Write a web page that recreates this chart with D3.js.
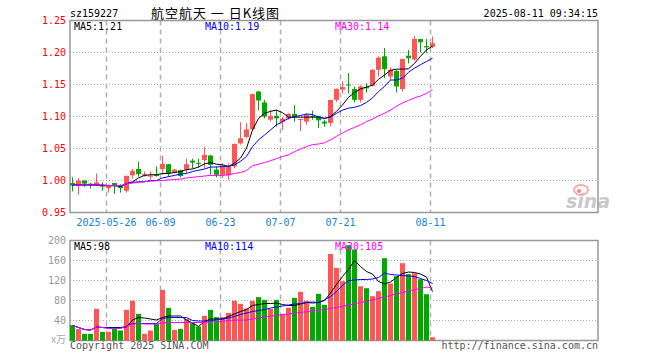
<!DOCTYPE html>
<html>
<head>
<meta charset="utf-8">
<script src="https://cdn.jsdelivr.net/npm/d3@7"></script>
<style>
  body { margin: 0; background: #fff; }
  svg { display: block; }
  text { font-family: "DejaVu Sans Mono", monospace; font-size: 10px; }
</style>
</head>
<body>
<svg id="chart" width="660" height="360"></svg>
<script>
// dades llegides del grafic (61 sessions)
const dates = ["05-16","05-19","05-20","05-21","05-22","05-23","05-26","05-27","05-28","05-29","05-30",
  "06-03","06-04","06-05","06-06","06-09","06-10","06-11","06-12","06-13","06-16","06-17","06-18","06-19","06-20",
  "06-23","06-24","06-25","06-26","06-27","06-30","07-01","07-02","07-03","07-04","07-07","07-08","07-09","07-10","07-11",
  "07-14","07-15","07-16","07-17","07-18","07-21","07-22","07-23","07-24","07-25","07-28","07-29","07-30","07-31",
  "08-01","08-04","08-05","08-06","08-07","08-08","08-11"];

const open = [0.996,0.993,1.000,0.995,0.993,0.992,0.988,0.996,0.992,0.984,1.008,
  1.018,1.008,1.006,1.009,1.018,1.0255,1.0125,1.016,1.017,1.031,1.0275,1.032,1.039,1.017,
  1.009,1.008,1.022,1.058,1.068,1.080,1.139,1.122,1.095,1.101,1.092,1.097,1.104,1.0955,1.092,
  1.101,1.101,1.092,1.090,1.126,1.142,1.150,1.143,1.126,1.146,1.148,1.173,1.194,1.1625,
  1.171,1.143,1.195,1.189,1.221,1.210,1.209];
const high = [1.005,1.004,1.000,0.996,1.011,0.997,0.994,0.996,0.994,1.008,1.018,
  1.029,1.014,1.014,1.022,1.0385,1.0255,1.018,1.017,1.034,1.034,1.034,1.052,1.040,1.022,
  1.027,1.027,1.058,1.091,1.090,1.136,1.140,1.126,1.110,1.110,1.099,1.105,1.118,1.0965,1.105,
  1.109,1.101,1.095,1.126,1.144,1.155,1.168,1.147,1.149,1.152,1.174,1.194,1.207,1.177,
  1.173,1.190,1.204,1.226,1.221,1.221,1.225];
const low = [0.983,0.978,0.990,0.9875,0.991,0.984,0.981,0.979,0.981,0.981,1.003,
  1.006,1.006,1.001,1.006,1.009,1.006,1.011,1.005,1.011,1.019,1.020,1.019,1.009,1.005,
  1.004,1.001,1.019,1.056,1.066,1.079,1.110,1.097,1.092,1.084,1.079,1.095,1.092,1.077,1.087,
  1.095,1.082,1.084,1.085,1.123,1.136,1.136,1.122,1.122,1.1375,1.147,1.1625,1.160,1.157,
  1.1375,1.139,1.183,1.187,1.200,1.199,1.207];
const close = [0.992,1.000,0.995,0.994,0.997,0.991,0.992,0.992,0.988,1.007,1.015,
  1.010,1.010,1.008,1.007,1.026,1.011,1.017,1.007,1.0255,1.028,1.027,1.040,1.0245,1.009,
  1.022,1.022,1.057,1.066,1.080,1.135,1.125,1.100,1.101,1.097,1.097,1.104,1.099,1.096,1.103,
  1.099,1.094,1.089,1.126,1.143,1.146,1.149,1.126,1.147,1.144,1.173,1.192,1.174,1.173,
  1.147,1.190,1.191,1.221,1.216,1.208,1.2146];

const ma5 = [0.993,0.993,0.993,0.993,0.993,0.992,0.992,0.992,0.991,0.995,0.998,
  1.004,1.008,1.009,1.009,1.011,1.011,1.0125,1.014,1.017,1.018,1.021,1.026,1.028,1.0255,
  1.0245,1.022,1.027,1.035,1.0505,1.079,1.097,1.105,1.108,1.110,1.106,1.099,1.099,1.099,1.099,
  1.099,1.099,1.097,1.100,1.108,1.118,1.130,1.1375,1.143,1.146,1.149,1.158,1.165,1.172,
  1.174,1.174,1.1745,1.183,1.194,1.204,1.210];
const ma10 = [0.993,0.993,0.993,0.993,0.993,0.993,0.992,0.992,0.991,0.995,0.997,
  0.998,0.998,1.000,1.000,1.004,1.006,1.008,1.010,1.011,1.014,1.016,1.018,1.021,1.021,
  1.022,1.022,1.0245,1.030,1.0375,1.053,1.0635,1.071,1.079,1.087,1.092,1.097,1.100,1.1015,1.104,
  1.103,1.099,1.097,1.099,1.105,1.110,1.113,1.1145,1.117,1.122,1.129,1.139,1.147,1.157,
  1.157,1.160,1.169,1.1755,1.181,1.186,1.191];
const ma30 = [0.993,0.993,0.993,0.993,0.993,0.993,0.992,0.992,0.992,0.995,0.996,
  0.997,0.998,0.999,0.9995,1.000,1.001,1.0015,1.002,1.004,1.005,1.006,1.007,1.008,1.008,
  1.008,1.009,1.011,1.0125,1.0155,1.023,1.0255,1.028,1.031,1.034,1.0375,1.040,1.045,1.049,1.053,
  1.056,1.057,1.059,1.0635,1.069,1.074,1.079,1.083,1.087,1.092,1.096,1.101,1.105,1.110,
  1.116,1.121,1.125,1.129,1.132,1.136,1.142];

// volum en 万
const volume = [30.7,22.7,13.3,13.3,63.3,17.3,17.3,24,20,61.3,79.3,
  53.3,13.3,20,33.3,101.3,65.3,21.3,23.3,43.3,34.7,28,49.3,61.3,46.7,
  46.7,55.3,79.3,73.3,64,79.3,86.7,81.3,63.3,81.3,53.3,65.3,85.3,97.3,79.3,
  67.3,93.3,71.3,173,145,118.6,190.6,182,108.6,104.6,88.6,98.6,164.6,114,
  128.6,154.6,132.6,134.6,122.6,92.6,6.6];
const vma5 = [30,26,22,21,27,26,26,26,26,27,41,
  46,45,43,41,46,49,49,49,41,35,28,38,43,43,
  43,48,53,58,62,70,72,74,74,75,72,70,70,73,76,
  75,76,80,95,112,128,142,160,148,138,133,118,113,117,
  126,134,137,136,133,127,98];
const vma10 = [30,26,22,21,27,26,25,25,25,29,34,
  34,34,34,34,44,46,46,46,46,40,39,39,39,42,
  43,45,48,52,55,58,60,62,65,67,69,71,73,74,76,
  77,76,81,88,98,110,120,121,122,122,123,126,135,132,
  131,130,129,128,124,120,114];
const vma30 = [30,26,22,21,27,26,24,24,24,28.6,32.6,
  34,33,33,33,35,36,36,36,36,36,36,36.5,37,37,
  38.6,40,40.6,40.6,41,43,45,47,48.5,50,51.5,53,54.5,56,57.5,
  59,60.5,62,64,66,68.5,71,73.5,76,78.5,81,84,87,90,
  93,96,99,101.5,104,107,105];

// etiquetes dels eixos
const priceTicks = [0.95, 1.00, 1.05, 1.10, 1.15, 1.20, 1.25];
const volTicks = [40, 80, 120, 160, 200];
const dateTicks = ["05-26", "06-09", "06-23", "07-07", "07-21", "08-11"];
const dateLabels = ["2025-05-26", "06-09", "06-23", "07-07", "07-21", "08-11"];

const RED = "#ff5555", GREEN = "#00a800";
const GRID = "#aaaaaa", FRAME = "#999999";

const svg = d3.select("#chart");

// Dimensions dels dos panells
const left = 70, right = 598;
const kTop = 20.5, kBot = 212.5;
const vTop = 240.5, vBot = 340.5;

const x = d3.scaleBand()
  .domain(dates)
  .range([69, 69 + 6 * dates.length]);
const cx = d => x(d) + 3.5;

const y = d3.scaleLinear().domain([0.95, 1.25]).range([kBot, kTop]);
const yv = d3.scaleLinear().domain([0, 200]).range([vBot, vTop]);

// Graella horitzontal (punts)
svg.append("g").selectAll("line")
  .data(priceTicks.filter(t => t > 0.96 && t < 1.24))
  .enter().append("line")
    .attr("x1", left).attr("x2", right)
    .attr("y1", d => y(d)).attr("y2", d => y(d))
    .attr("stroke", GRID).attr("stroke-dasharray", "1,2");

svg.append("g").selectAll("line")
  .data(volTicks.filter(t => t < 200))
  .enter().append("line")
    .attr("x1", left).attr("x2", right)
    .attr("y1", d => yv(d)).attr("y2", d => yv(d))
    .attr("stroke", GRID).attr("stroke-dasharray", "1,2");

// Graella vertical (guions) als dos panells
[[kTop, kBot], [vTop, vBot]].forEach(([t, b]) => {
  svg.append("g").selectAll("line")
    .data(dateTicks)
    .enter().append("line")
      .attr("x1", d => x(d) + 1.5).attr("x2", d => x(d) + 1.5)
      .attr("y1", t).attr("y2", b)
      .attr("stroke", "#b0b0b0").attr("stroke-width", 1.5)
      .attr("stroke-dasharray", "5,4");
});

// logo sina
const logo = svg.append("g").attr("opacity", 0.75);
logo.append("text")
  .attr("x", 566).attr("y", 208)
  .style("font-family", "DejaVu Sans")
  .style("font-size", "19px")
  .style("font-style", "italic")
  .style("font-weight", "bold")
  .style("fill", "#b8b8b8")
  .text("sina");
logo.append("ellipse")
  .attr("cx", 581).attr("cy", 190).attr("rx", 7).attr("ry", 5)
  .attr("fill", "none").attr("stroke", "#f79090").attr("stroke-width", 2);
logo.append("circle")
  .attr("cx", 579).attr("cy", 191).attr("r", 2)
  .attr("fill", "#f06060");

// Marcs
svg.append("rect")
  .attr("x", left).attr("y", kTop).attr("width", right - left).attr("height", kBot - kTop)
  .attr("fill", "none").attr("stroke", FRAME).attr("stroke-width", 1.5);
svg.append("rect")
  .attr("x", left).attr("y", vTop).attr("width", right - left).attr("height", vBot - vTop)
  .attr("fill", "none").attr("stroke", FRAME).attr("stroke-width", 1.5);

// Espelmes
const candles = dates.map((d, i) => ({ d, o: open[i], h: high[i], l: low[i], c: close[i], v: volume[i] }));
const col = k => k.c >= k.o ? RED : GREEN;

svg.append("g").selectAll("line")
  .data(candles)
  .enter().append("line")
    .attr("x1", k => cx(k.d)).attr("x2", k => cx(k.d))
    .attr("y1", k => y(k.h)).attr("y2", k => y(k.l))
    .attr("stroke", col).attr("stroke-width", 1);

svg.append("g").selectAll("rect")
  .data(candles)
  .enter().append("rect")
    .attr("x", k => x(k.d) + 1)
    .attr("width", 5)
    .attr("y", k => y(Math.max(k.o, k.c)))
    .attr("height", k => Math.max(1, Math.abs(y(k.o) - y(k.c))))
    .attr("fill", col);

// Barres de volum
svg.append("g").selectAll("rect")
  .data(candles)
  .enter().append("rect")
    .attr("x", k => x(k.d) + 1)
    .attr("width", 5)
    .attr("y", k => yv(k.v))
    .attr("height", k => yv(0) - yv(k.v))
    .attr("fill", col);

// Mitjanes mobils
function drawLine(values, scale, color) {
  const line = d3.line()
    .x((v, i) => cx(dates[i]))
    .y(v => scale(v));
  svg.append("path")
    .attr("d", line(values))
    .attr("fill", "none")
    .attr("stroke", color)
    .attr("stroke-width", 1);
}
drawLine(ma5, y, "#000");
drawLine(ma10, y, "#0000ff");
drawLine(ma30, y, "#ff00ff");
drawLine(vma5, yv, "#000");
drawLine(vma10, yv, "#0000ff");
drawLine(vma30, yv, "#ff00ff");

// Etiquetes eix Y preu
svg.append("g").selectAll("text")
  .data(priceTicks)
  .enter().append("text")
    .attr("x", 66).attr("y", d => y(d))
    .attr("dy", "0.35em")
    .attr("text-anchor", "end")
    .style("fill", "#ff0000")
    .text(d => d.toFixed(2));

// Etiquetes eix Y volum
svg.append("g").selectAll("text")
  .data(volTicks)
  .enter().append("text")
    .attr("x", 66).attr("y", d => yv(d))
    .attr("dy", "0.35em")
    .attr("text-anchor", "end")
    .style("fill", "#999")
    .text(d => d);
svg.append("text")
  .attr("x", 66).attr("y", yv(0)).attr("dy", "0.2em")
  .attr("text-anchor", "end")
  .style("fill", "#aaa")
  .style("font-family", "'Noto Sans CJK SC', sans-serif")
  .style("font-size", "10px")
  .text("x万");

// Etiquetes de dates
svg.append("g").selectAll("text")
  .data(dateTicks)
  .enter().append("text")
    .attr("x", d => x(d) + 1.5)
    .attr("y", 222)
    .attr("dy", "0.35em")
    .attr("text-anchor", "middle")
    .style("fill", "#1582d8")
    .text((d, i) => dateLabels[i]);

// Capcalera
svg.append("text").attr("x", 70).attr("y", 17).text("sz159227");
svg.append("text")
  .attr("x", 151).attr("y", 18)
  .attr("textLength", 128).attr("lengthAdjust", "spacing")
  .style("font-family", "'Noto Sans CJK SC', sans-serif")
  .style("font-size", "13px")
  .text("航空航天 一 日K线图");
svg.append("text").attr("x", 598).attr("y", 17).attr("text-anchor", "end")
  .text("2025-08-11 09:34:15");

// Llegendes
const last = a => a[a.length - 1];
const legend = (yy, items) => items.forEach(([xx, color, txt]) => {
  svg.append("text").attr("x", xx).attr("y", yy).attr("dy", "0.35em")
    .style("fill", color).text(txt);
});
legend(26, [
  [74, "#000", "MA5:" + last(ma5).toFixed(2)],
  [205, "#0000ff", "MA10:" + last(ma10).toFixed(2)],
  [335, "#ff00ff", "MA30:" + last(ma30).toFixed(2)]
]);
legend(246, [
  [74, "#000", "MA5:" + Math.round(last(vma5))],
  [205, "#0000ff", "MA10:" + Math.round(last(vma10))],
  [335, "#ff00ff", "MA30:" + Math.round(last(vma30))]
]);

// Peu
svg.append("text").attr("x", 70).attr("y", 349).style("fill", "#555")
  .text("Copyright 2025 SINA.COM");
svg.append("text").attr("x", 598).attr("y", 349).attr("text-anchor", "end").style("fill", "#555")
  .text("http://finance.sina.com.cn");
</script>
</body>
</html>
